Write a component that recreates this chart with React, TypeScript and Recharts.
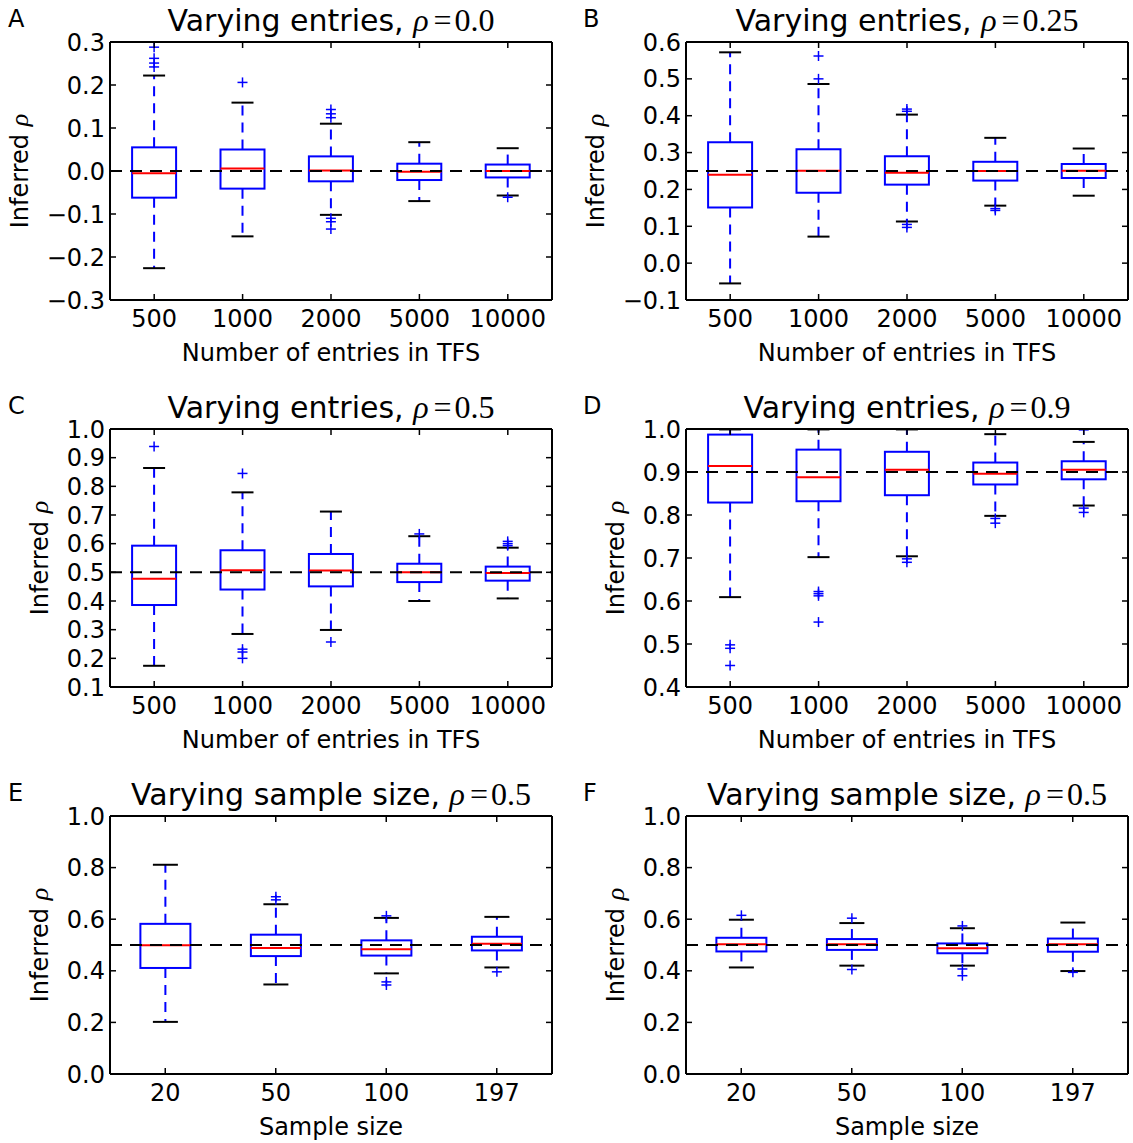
import React from 'react';
import { ComposedChart, Bar, XAxis, YAxis, ReferenceLine } from 'recharts';

const entryCategories = ['500', '1000', '2000', '5000', '10000'];
const sampleCategories = ['20', '50', '100', '197'];

// each box: [lower whisker, q1, median, q3, upper whisker]
const boxesA = [
  [-0.226, -0.062, -0.005, 0.055, 0.222],
  [-0.152, -0.041, 0.006, 0.05, 0.159],
  [-0.102, -0.024, 0.001, 0.034, 0.11],
  [-0.07, -0.021, -0.002, 0.017, 0.067],
  [-0.057, -0.015, 0.0, 0.015, 0.053],
];
const fliersA = [
  [0.288, 0.262, 0.251, 0.242],
  [0.206],
  [0.143, 0.133, 0.124, -0.11, -0.118, -0.135],
  [],
  [-0.061],
];

const boxesB = [
  [-0.055, 0.151, 0.24, 0.328, 0.572],
  [0.072, 0.191, 0.251, 0.309, 0.486],
  [0.113, 0.213, 0.245, 0.29, 0.403],
  [0.156, 0.224, 0.25, 0.275, 0.34],
  [0.183, 0.231, 0.251, 0.269, 0.311],
];
const fliersB = [[], [0.562, 0.5], [0.418, 0.412, 0.097, 0.105], [0.143, 0.148], []];

const boxesC = [
  [0.174, 0.386, 0.478, 0.593, 0.864],
  [0.285, 0.44, 0.507, 0.577, 0.779],
  [0.299, 0.451, 0.506, 0.564, 0.712],
  [0.4, 0.466, 0.5, 0.53, 0.626],
  [0.409, 0.471, 0.498, 0.52, 0.586],
];
const fliersC = [[0.939], [0.845, 0.232, 0.222, 0.2], [0.257], [0.634], [0.608, 0.6, 0.593]];

const boxesD = [
  [0.609, 0.829, 0.914, 0.987, 0.999],
  [0.702, 0.832, 0.888, 0.952, 0.999],
  [0.704, 0.846, 0.905, 0.947, 0.999],
  [0.798, 0.871, 0.896, 0.922, 0.988],
  [0.822, 0.883, 0.905, 0.925, 0.97],
];
const fliersD = [
  [0.498, 0.49, 0.45],
  [0.622, 0.617, 0.612, 0.551],
  [0.698, 0.69],
  [0.792, 0.781],
  [0.816, 0.806, 0.998],
];

const boxesE = [
  [0.202, 0.411, 0.499, 0.582, 0.811],
  [0.347, 0.457, 0.488, 0.54, 0.658],
  [0.39, 0.459, 0.484, 0.518, 0.605],
  [0.413, 0.479, 0.505, 0.532, 0.609],
];
const fliersE = [[], [0.687, 0.675], [0.613, 0.357, 0.345], [0.396]];

const boxesF = [
  [0.413, 0.475, 0.503, 0.528, 0.598],
  [0.42, 0.481, 0.503, 0.523, 0.585],
  [0.42, 0.468, 0.487, 0.506, 0.565],
  [0.399, 0.474, 0.503, 0.525, 0.587],
];
const fliersF = [[0.615], [0.604, 0.405], [0.574, 0.407, 0.381], [0.394]];

const ticksA = [-0.3, -0.2, -0.1, 0, 0.1, 0.2, 0.3];
const ticksB = [-0.1, 0, 0.1, 0.2, 0.3, 0.4, 0.5, 0.6];
const ticksC = [0.1, 0.2, 0.3, 0.4, 0.5, 0.6, 0.7, 0.8, 0.9, 1.0];
const ticksD = [0.4, 0.5, 0.6, 0.7, 0.8, 0.9, 1.0];
const ticksEF = [0, 0.2, 0.4, 0.6, 0.8, 1.0];

const PLOT_W = 442;
const PLOT_H = 258;
const AXIS_W = 110;
const TOP_PAD = 16;
const FONT = 'DejaVu Sans';
const MATH = 'Liberation Serif';

const panels = [
  { letter: 'A', title: 'Varying entries, ', rho: '0.0', cats: entryCategories, boxes: boxesA, fliers: fliersA, ticks: ticksA, ref: 0, xlabel: 'Number of entries in TFS', left: 110, top: 42, ylab: 82, gap: '25%' },
  { letter: 'B', title: 'Varying entries, ', rho: '0.25', cats: entryCategories, boxes: boxesB, fliers: fliersB, ticks: ticksB, ref: 0.25, xlabel: 'Number of entries in TFS', left: 686, top: 42, ylab: 82, gap: '25%' },
  { letter: 'C', title: 'Varying entries, ', rho: '0.5', cats: entryCategories, boxes: boxesC, fliers: fliersC, ticks: ticksC, ref: 0.5, xlabel: 'Number of entries in TFS', left: 110, top: 429, ylab: 62, gap: '25%' },
  { letter: 'D', title: 'Varying entries, ', rho: '0.9', cats: entryCategories, boxes: boxesD, fliers: fliersD, ticks: ticksD, ref: 0.9, xlabel: 'Number of entries in TFS', left: 686, top: 429, ylab: 62, gap: '25%' },
  { letter: 'E', title: 'Varying sample size, ', rho: '0.5', cats: sampleCategories, boxes: boxesE, fliers: fliersE, ticks: ticksEF, ref: 0.5, xlabel: 'Sample size', left: 110, top: 816, ylab: 62, gap: '27.5%' },
  { letter: 'F', title: 'Varying sample size, ', rho: '0.5', cats: sampleCategories, boxes: boxesF, fliers: fliersF, ticks: ticksEF, ref: 0.5, xlabel: 'Sample size', left: 686, top: 816, ylab: 62, gap: '27.5%' },
];

const fmt = (v: number) => v.toFixed(1).replace('-', '\u2212');

function BoxShape(props: any) {
  const { x, y, width, height, payload } = props;
  if (!payload) return null;
  const [mn, mx] = payload.range;
  const top = height >= 0 ? y : y + height;
  const k = Math.abs(height) / (mx - mn);
  const Y = (v: number) => top + (mx - v) * k;
  const cx = x + width / 2;
  const cap = width / 4;
  return (
    <g>
      <line x1={cx} x2={cx} y1={Y(payload.q3)} y2={Y(payload.hi)} stroke="#0000ff" strokeWidth={2} strokeDasharray="10 7" />
      <line x1={cx} x2={cx} y1={Y(payload.q1)} y2={Y(payload.lo)} stroke="#0000ff" strokeWidth={2} strokeDasharray="10 7" />
      <line x1={cx - cap} x2={cx + cap} y1={Y(payload.hi)} y2={Y(payload.hi)} stroke="#000" strokeWidth={2} />
      <line x1={cx - cap} x2={cx + cap} y1={Y(payload.lo)} y2={Y(payload.lo)} stroke="#000" strokeWidth={2} />
      <rect x={x} y={Y(payload.q3)} width={width} height={Y(payload.q1) - Y(payload.q3)} fill="none" stroke="#0000ff" strokeWidth={2} />
      <line x1={x} x2={x + width} y1={Y(payload.med)} y2={Y(payload.med)} stroke="#ff0000" strokeWidth={2} />
      {payload.fliers.map((f: number, i: number) => (
        <g key={i} stroke="#0000ff" strokeWidth={1.5}>
          <line x1={cx - 5} x2={cx + 5} y1={Y(f)} y2={Y(f)} />
          <line x1={cx} x2={cx} y1={Y(f) - 5} y2={Y(f) + 5} />
        </g>
      ))}
    </g>
  );
}

function Panel({ p }: { p: any }) {
  const data = p.cats.map((name: string, i: number) => {
    const [lo, q1, med, q3, hi] = p.boxes[i];
    const fl = p.fliers[i];
    return { name, lo, q1, med, q3, hi, fliers: fl, range: [Math.min(lo, ...fl), Math.max(hi, ...fl)] };
  });
  const domain = [p.ticks[0], p.ticks[p.ticks.length - 1]];
  const tickStyle = { fontSize: 24, fill: '#000', fontFamily: FONT };
  const axisLine = { stroke: '#000', strokeWidth: 2 };
  const tickLine = { stroke: '#000', strokeWidth: 1.5 };
  return (
    <div style={{ position: 'absolute', left: p.left - AXIS_W, top: p.top - TOP_PAD }}>
      <ComposedChart
        width={AXIS_W + PLOT_W + 6}
        height={TOP_PAD + PLOT_H + 70}
        data={data}
        margin={{ top: TOP_PAD - 1, right: 0, bottom: 0, left: 0 }}
        barCategoryGap={p.gap}
      >
        <XAxis dataKey="name" interval={0} height={70} tickSize={-6} tickMargin={16} tick={tickStyle} axisLine={axisLine} tickLine={tickLine} />
        <XAxis dataKey="name" xAxisId="top" orientation="top" interval={0} height={1} tickSize={-6} tickFormatter={() => ''} axisLine={axisLine} tickLine={tickLine} />
        <YAxis type="number" domain={domain} ticks={p.ticks} allowDataOverflow width={AXIS_W} interval={0} tickSize={-6} tickMargin={11} tickFormatter={fmt} tick={tickStyle} axisLine={axisLine} tickLine={tickLine} />
        <YAxis yAxisId="right" orientation="right" type="number" domain={domain} ticks={p.ticks} allowDataOverflow width={6} interval={0} tickSize={-6} tickFormatter={() => ''} axisLine={axisLine} tickLine={tickLine} />
        <Bar dataKey="range" shape={BoxShape} isAnimationActive={false} />
        <ReferenceLine y={p.ref} stroke="#000" strokeWidth={2} strokeDasharray="12 8" />
      </ComposedChart>
    </div>
  );
}

function Labels({ p }: { p: any }) {
  const cx = p.left + PLOT_W / 2;
  const cy = p.top + PLOT_H / 2;
  const xl = p.left === 110 ? 8 : 583;
  return (
    <g fontFamily={FONT} fill="#000">
      <text x={xl} y={p.top - 15} fontSize={24}>{p.letter}</text>
      <text x={cx} y={p.top - 11} fontSize={30} textAnchor="middle">
        {p.title}
        <tspan fontFamily={MATH} fontStyle="italic" fontSize={32}>ρ</tspan>
        <tspan fontFamily={MATH} fontSize={32} dx={5}>=</tspan>
        <tspan fontFamily={MATH} fontSize={32} dx={3}>{p.rho}</tspan>
      </text>
      <text x={cx} y={p.top + PLOT_H + 61} fontSize={24} textAnchor="middle">{p.xlabel}</text>
      <text transform={`translate(${p.left - p.ylab},${cy}) rotate(-90)`} fontSize={24} textAnchor="middle">
        Inferred <tspan fontFamily={MATH} fontStyle="italic" fontSize={26}>ρ</tspan>
      </text>
    </g>
  );
}

export default function App() {
  return (
    <div style={{ position: 'absolute', left: 0, top: 0, width: 1133, height: 1143, background: '#fff', overflow: 'hidden' }}>
      {panels.map((p) => (
        <Panel key={p.letter} p={p} />
      ))}
      <svg width={1133} height={1143} style={{ position: 'absolute', left: 0, top: 0, pointerEvents: 'none' }}>
        {panels.map((p) => (
          <Labels key={p.letter} p={p} />
        ))}
      </svg>
    </div>
  );
}
